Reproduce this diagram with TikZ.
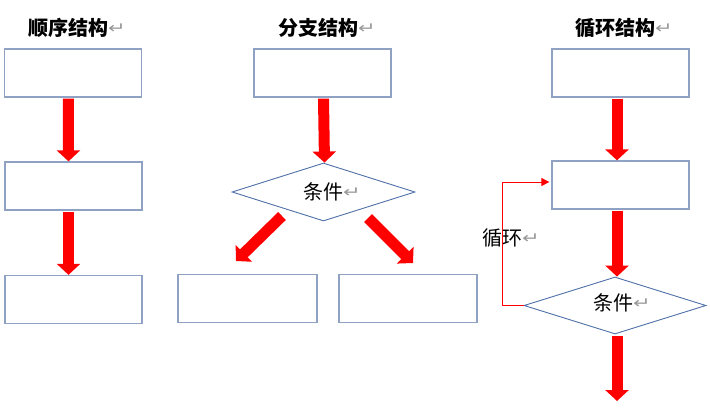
\documentclass[tikz,border=0pt]{standalone}
\usepackage{fontspec}
\usetikzlibrary{arrows.meta,shapes.geometric}
\newfontfamily\cjk{Noto Sans CJK SC}
\newfontfamily\dvs{DejaVu Sans}
\definecolor{boxc}{HTML}{8FA2C4}
\definecolor{diac}{HTML}{4F6FA8}
\newcommand{\retmark}{\raisebox{2pt}{\scalebox{1.5}[1.1]{\dvs\mdseries\fontsize{14}{14}\selectfont\color{black!40}↵}}}
\tikzset{
  stepbox/.style={draw=boxc, line width=1.3pt, minimum width=137pt, minimum height=48pt, inner sep=0pt},
  cond/.style={draw=diac, line width=0.9pt, diamond, minimum width=183pt, minimum height=58pt, inner sep=0pt, shape aspect=3.16},
  bigarrow/.style={draw=red, line width=11pt, -{Triangle[width=23pt,length=11pt]}},
  loopline/.style={draw=red, line width=1pt, -{Triangle[width=8pt,length=8pt]}},
  title/.style={anchor=base west, inner sep=0pt, font=\cjk\bfseries\fontsize{20}{24}\selectfont},
  lab/.style={anchor=base west, inner sep=0pt, font=\cjk\fontsize{20}{24}\selectfont}
}
\begin{document}
\begin{tikzpicture}[x=1pt,y=-1pt]
\useasboundingbox (0,0) rectangle (710,413);
% titles
\node[title] (t1) at (28,35) {顺序结构\retmark};
\node[title] (t2) at (278,35) {分支结构\retmark};
\node[title] (t3) at (575,35) {循环结构\retmark};
% sequence
\node[stepbox] (b1) at (73.25,73) {};
\node[stepbox] (b2) at (73.5,186) {};
\node[stepbox] (b3) at (73.5,299.5) {};
\draw[bigarrow] ([xshift=-5pt,yshift=-1pt]b1.south) -- ([xshift=-5pt]b2.north);
\draw[bigarrow] ([xshift=-5pt,yshift=-1pt]b2.south) -- ([xshift=-5pt]b3.north);
% branch
\node[stepbox] (b4) at (322.5,73) {};
\node[cond] (d1) at (323.5,192) {};
\node[lab] (c1) at (303,199.6) {条件\retmark};
\node[stepbox, minimum width=139pt] (b5) at (247.5,298.5) {};
\node[stepbox, minimum width=138pt] (b6) at (408,298.5) {};
\draw[bigarrow] ([xshift=1pt,yshift=-1pt]b4.south) -- ([xshift=1pt]d1.north);
\coordinate (l0) at (282,216);
\coordinate (l1) at (236,261);
\coordinate (r0) at (368,218);
\coordinate (r1) at (413,263);
\draw[bigarrow] (l0) -- (l1);
\draw[bigarrow] (r0) -- (r1);
% loop
\node[stepbox] (b7) at (620.5,73) {};
\node[stepbox] (b8) at (620.5,185) {};
\node[cond, minimum width=182pt, minimum height=57pt] (d2) at (615,305.5) {};
\draw[bigarrow] ([xshift=-3.5pt,yshift=-1pt]b7.south) -- ([xshift=-3.5pt]b8.north);
\draw[bigarrow] ([xshift=-3.5pt,yshift=-1pt]b8.south) -- ([xshift=2pt]d2.north);
\coordinate (e1) at (617,401);
\draw[bigarrow] ([xshift=2pt,yshift=-2pt]d2.south) -- (e1);
\draw[loopline] (d2.west) -- ++(-21,0) |- ([xshift=-2pt,yshift=3pt]b8.west);
\node[lab] (c2) at (593,310.6) {条件\retmark};
\node[lab] (c3) at (482,245.6) {循环\retmark};
\end{tikzpicture}
\end{document}
